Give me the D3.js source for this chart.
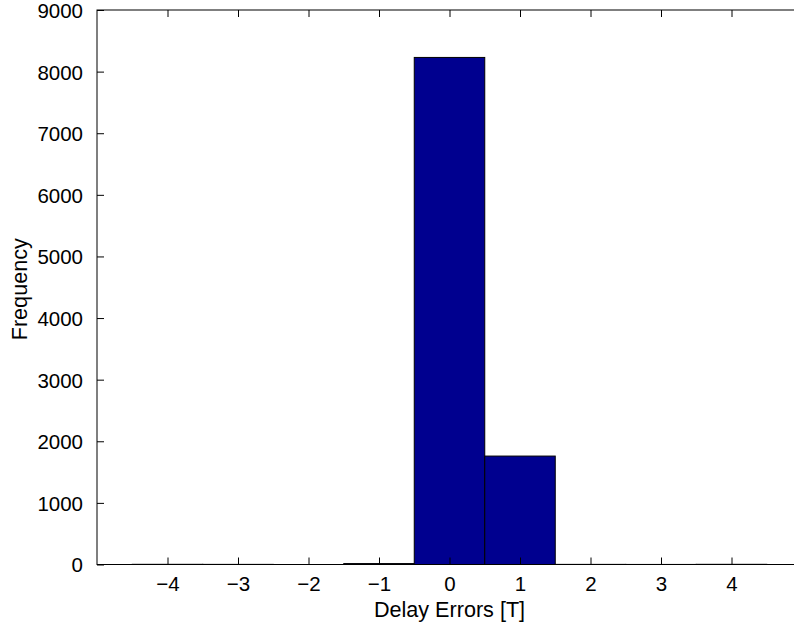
<!DOCTYPE html>
<html>
<head>
<meta charset="utf-8">
<script src="https://cdn.jsdelivr.net/npm/d3@7"></script>
<style>
  html, body { margin: 0; padding: 0; background: #fff; }
  svg { display: block; }
  text { font-family: "Liberation Sans", Arial, Helvetica, sans-serif; fill: #000; }
</style>
</head>
<body>
<svg id="chart" width="794" height="627"></svg>
<script>
// Data
const binCenters = [-4, -3, -2, -1, 0, 1, 2, 3, 4];
const frequencies = [3, 2, 0, 15, 8230, 1760, 2, 1, 3];
const xTickValues = [-4, -3, -2, -1, 0, 1, 2, 3, 4];
const yTickValues = [0, 1000, 2000, 3000, 4000, 5000, 6000, 7000, 8000, 9000];
const xLabel = "Delay Errors [T]";
const yLabel = "Frequency";

const svg = d3.select("#chart");
const mLeft = 97, mRight = 802, mTop = 10, mBottom = 564.5;
const fontSize = 20.5;
const labelSize = 21.6;
const tickLen = 7;

const x = d3.scaleLinear().domain([-5, 5]).range([mLeft, mRight]);
const y = d3.scaleLinear().domain([0, 9000]).range([mBottom, mTop]);

// Bars
const binW = 1;
svg.append("g").selectAll("rect")
  .data(binCenters.map((c, i) => ({c, v: frequencies[i]})))
  .join("rect")
  .attr("x", d => x(d.c - binW / 2))
  .attr("width", d => x(d.c + binW / 2) - x(d.c - binW / 2))
  .attr("y", d => y(d.v))
  .attr("height", d => y(0) - y(d.v))
  .attr("fill", "#00008f")
  .attr("stroke", "#000")
  .attr("stroke-width", 1);

// Box
svg.append("rect")
  .attr("x", mLeft).attr("y", mTop)
  .attr("width", mRight - mLeft).attr("height", mBottom - mTop)
  .attr("fill", "none").attr("stroke", "#000").attr("stroke-width", 1);

const fmt = d => d < 0 ? "\u2212" + Math.abs(d) : String(d);

// Bottom axis
const xAxisB = d3.axisBottom(x).tickValues(xTickValues).tickSize(-tickLen).tickPadding(tickLen + 11).tickFormat(fmt);
const gxb = svg.append("g").attr("transform", `translate(0,${mBottom})`).call(xAxisB);
// Top axis (ticks only)
const xAxisT = d3.axisTop(x).tickValues(xTickValues).tickSize(-tickLen).tickFormat("");
const gxt = svg.append("g").attr("transform", `translate(0,${mTop})`).call(xAxisT);
// Left axis
const yAxisL = d3.axisLeft(y).tickValues(yTickValues).tickSize(-tickLen).tickPadding(tickLen + 7).tickFormat(d3.format("d"));
const gyl = svg.append("g").attr("transform", `translate(${mLeft},0)`).call(yAxisL);
// Right axis (ticks only)
const yAxisR = d3.axisRight(y).tickValues(yTickValues).tickSize(-tickLen).tickFormat("");
const gyr = svg.append("g").attr("transform", `translate(${mRight},0)`).call(yAxisR);

[gxb, gxt, gyl, gyr].forEach(g => {
  g.select(".domain").remove();
  g.selectAll("line").attr("stroke", "#000").attr("stroke-width", 1);
  g.selectAll("text").attr("font-size", fontSize).attr("font-family", '"Liberation Sans", Arial, sans-serif').attr("fill", "#000");
});
gxb.selectAll("text").attr("dy", null).attr("y", 591 - mBottom);
gyl.selectAll("text").attr("dy", "0.36em");

// Axis labels
svg.append("text")
  .attr("x", (mLeft + mRight) / 2)
  .attr("y", 617)
  .attr("text-anchor", "middle")
  .attr("font-size", labelSize)
  .text(xLabel);

svg.append("text")
  .attr("transform", `translate(27,${(mTop + mBottom) / 2 + 2}) rotate(-90)`)
  .attr("text-anchor", "middle")
  .attr("font-size", labelSize)
  .text(yLabel);
</script>
</body>
</html>
